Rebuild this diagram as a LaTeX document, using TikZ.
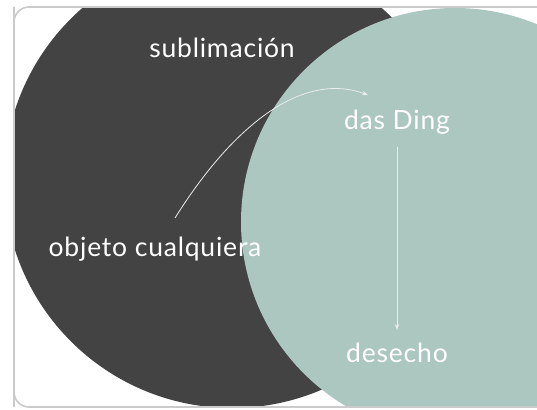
\documentclass[tikz,border=0pt]{standalone}
\usepackage{fontspec}
\setmainfont{Lato}[LetterSpace=3]
\usetikzlibrary{arrows.meta,calc,positioning}
\definecolor{darkdisc}{HTML}{434343}
\definecolor{greendisc}{HTML}{ABC7BF}
\definecolor{framegray}{HTML}{CACACA}
\tikzset{
	label text/.style={text=white, font=\fontsize{26.5}{31}\selectfont, inner sep=0pt, anchor=base},
	thin arrow/.style={draw=white!92!black, line width=0.8pt, -{Stealth[length=6pt,width=4.5pt]}},
}
\begin{document}
\begin{tikzpicture}[x=1pt,y=-1pt]
	\useasboundingbox (0,0) rectangle (537,409);
	\begin{scope}
		\clip[rounded corners=15pt] (14,7) rectangle (560,407);
		\fill [darkdisc] (232,180) circle (228pt);
		\fill [greendisc] (455,222) circle (214pt);
	\end{scope}
	\draw [framegray, line width=1.6pt, rounded corners=15pt] (14,7) -- (14,407) -- (560,407);
	\draw [framegray, line width=1.6pt, rounded corners=15pt] (14,407) -- (14,7) -- (560,7);
	\node [label text] (sub) at (222,58) {sublimación};
	\node [label text] (ding) at (397,129) {das Ding};
	\node [label text] (obj) at (155,256) {objeto cualquiera};
	\node [label text] (des) at (397,362) {desecho};
	\draw [thin arrow] ([xshift=20pt,yshift=38pt]obj.base) .. controls (230,130) and (300,70) .. ([xshift=-29pt,yshift=34pt]ding.base);
	\draw [thin arrow] ([yshift=-18pt]ding.base) -- ([yshift=32pt]des.base);
\end{tikzpicture}
\end{document}
